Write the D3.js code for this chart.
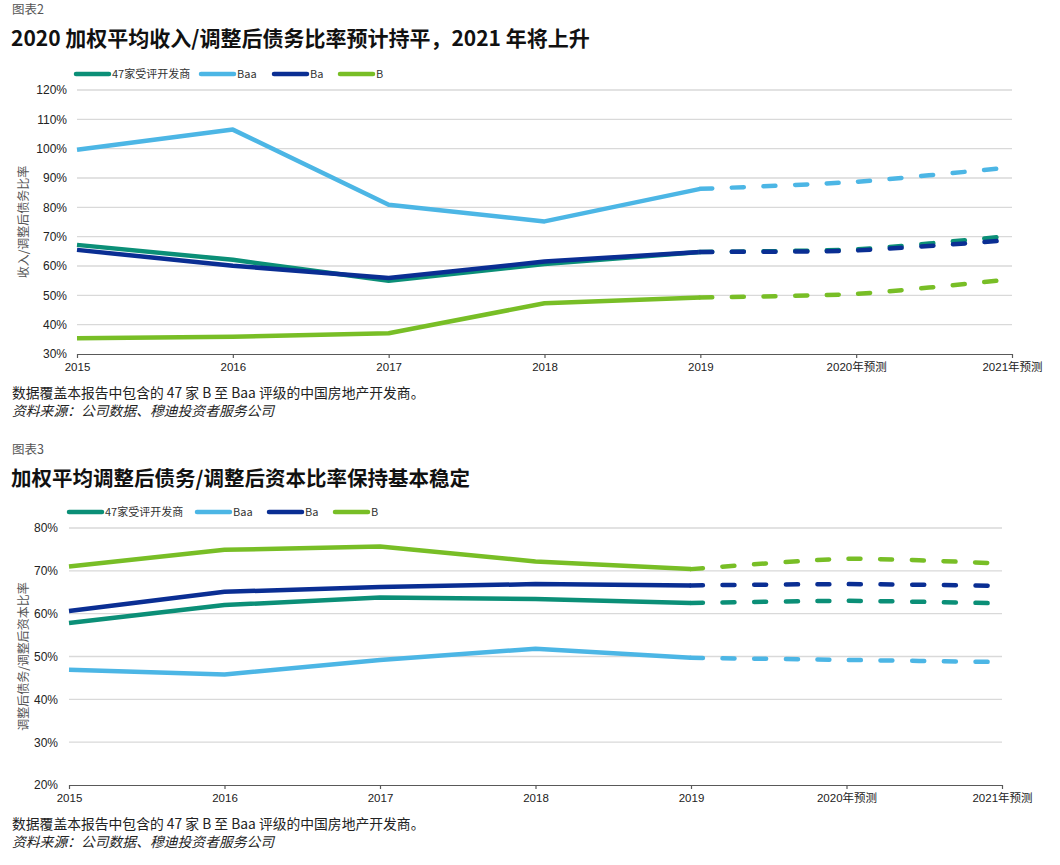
<!DOCTYPE html>
<html><head><meta charset="utf-8">
<script src="https://cdn.jsdelivr.net/npm/d3@7/dist/d3.min.js"></script>
<style>
body{margin:0;background:#fff;}
svg{display:block;font-family:"Liberation Sans",Arial,"Noto Sans CJK SC",sans-serif;}
.cjk{font-family:"Noto Sans CJK SC","Liberation Sans",sans-serif;}
</style></head>
<body>
<svg id="c" width="1060" height="865"></svg>
<script>
// ---- data ----
const categories = ["2015","2016","2017","2018","2019","2020年预测","2021年预测"];
const seriesNames = ["47家受评开发商","Baa","Ba","B"];
const seriesColors = ["#0b8f77","#4cb6e5","#0a2e93","#78be26"];

// Chart 2 (图表2): 收入/调整后债务比率, %
const c1All47 = [67.2, 62.1, 55.0, 60.7, 64.8, 65.7, 70.3];
const c1Baa   = [99.6, 106.5, 80.9, 75.2, 86.3, 88.7, 93.7];
const c1Ba    = [65.5, 60.1, 55.9, 61.5, 64.8, 65.3, 68.9];
const c1B     = [35.4, 35.9, 37.1, 47.3, 49.3, 50.5, 55.5];
const c1Ticks = [30,40,50,60,70,80,90,100,110,120];

// Chart 3 (图表3): 调整后债务/调整后资本比率, %
const c2All47 = [57.8, 62.0, 63.8, 63.4, 62.5, 63.0, 62.4];
const c2Baa   = [46.9, 45.8, 49.2, 51.8, 49.7, 49.2, 48.7];
const c2Ba    = [60.6, 65.1, 66.2, 66.9, 66.6, 66.9, 66.5];
const c2B     = [71.0, 74.9, 75.7, 72.2, 70.4, 72.8, 71.7];
const c2Ticks = [20,30,40,50,60,70,80];

const forecastStart = 4; // index of 2019; dashed afterwards

const svg = d3.select("#c");

function drawChart(o){
  const g = svg.append("g");
  // labels
  g.append("text").attr("class","cjk").attr("x",12).attr("y",o.top+5)
    .attr("font-size",12.5).attr("fill","#555").text(o.label);
  g.append("text").attr("class","cjk").attr("x",11).attr("y",o.top+37)
    .attr("font-size",o.titleSize).attr("font-weight","bold").attr("fill","#111").text(o.title);

  const x = d3.scalePoint().domain(categories).range([o.x0,o.x1]);
  const y = d3.scaleLinear().domain(o.domain).range([o.yb,o.yt]);

  // gridlines
  g.append("g").selectAll("line").data(o.ticks.slice(1)).join("line")
    .attr("x1",o.x0).attr("x2",o.x1)
    .attr("y1",d=>y(d)).attr("y2",d=>y(d))
    .attr("stroke","#d9d9d9").attr("stroke-width",1.3);

  // y axis labels
  const ya = d3.axisLeft(y).tickValues(o.ticks).tickFormat(d=>d+"%").tickSize(0).tickPadding(0);
  const yg = g.append("g").attr("transform",`translate(${o.ylab},0)`).call(ya);
  yg.select(".domain").remove();
  yg.selectAll("text").attr("font-size",12).attr("fill","#222")
    .attr("font-family","'Liberation Sans',Arial,sans-serif");

  // x axis
  const xa = d3.axisBottom(x).tickSize(4).tickPadding(5).tickSizeOuter(0);
  const xg = g.append("g").attr("transform",`translate(0,${o.yb})`).call(xa);
  xg.select(".domain").attr("stroke","#595959").attr("stroke-width",1.2);
  xg.selectAll(".tick line").attr("stroke","#595959").attr("stroke-width",1.2);
  xg.selectAll("text").attr("font-size",11.5).attr("fill","#222")
    .attr("font-family","'Liberation Sans','Noto Sans CJK SC',sans-serif");

  // y title
  g.append("text").attr("class","cjk")
    .attr("transform",`translate(${o.ytx},${(o.yt+o.yb)/2}) rotate(-90)`)
    .attr("text-anchor","middle").attr("font-size",12).attr("fill","#555")
    .text(o.ytitle);

  // lines
  const pts = o.series.map(s=>s.map((v,i)=>[x(categories[i]),y(v)]));
  const solid = d3.line().curve(d3.curveLinear);
  const dashed = d3.line().curve(d3.curveCardinal.tension(0.3));
  pts.forEach((p,k)=>{
    g.append("path").attr("d",solid(p.slice(0,forecastStart+1)))
      .attr("fill","none").attr("stroke",seriesColors[k]).attr("stroke-width",4.5)
      .attr("stroke-linejoin","round").attr("stroke-linecap","butt");
  });
  pts.forEach((p,k)=>{
    g.append("path").attr("d",dashed(p.slice(forecastStart)))
      .attr("fill","none").attr("stroke",seriesColors[k]).attr("stroke-width",4.5)
      .attr("stroke-linecap","round").attr("stroke-dasharray","12,19.6");
  });

  // legend
  const lg = g.append("g");
  seriesNames.forEach((n,k)=>{
    const lx = o.legX[k];
    lg.append("line").attr("x1",lx).attr("x2",lx+33).attr("y1",o.legY).attr("y2",o.legY)
      .attr("stroke",seriesColors[k]).attr("stroke-width",4.5).attr("stroke-linecap","round");
    lg.append("text").attr("class","cjk").attr("x",lx+36).attr("y",o.legY+4)
      .attr("font-size",11).attr("fill","#333").text(n);
  });

  // notes
  g.append("text").attr("class","cjk").attr("x",12).attr("y",o.yb+44)
    .attr("font-size",13.8).attr("fill","#222")
    .text("数据覆盖本报告中包含的 47 家 B 至 Baa 评级的中国房地产开发商。");
  g.append("text").attr("class","cjk").attr("x",12).attr("y",o.yb+62)
    .attr("font-size",13.8).attr("fill","#222").attr("font-style","italic")
    .text("资料来源：公司数据、穆迪投资者服务公司");
}

drawChart({
  label:"图表2", title:"2020 加权平均收入/调整后债务比率预计持平，2021 年将上升", titleSize:21,
  top:9, x0:77, x1:1012, yt:90, yb:354, domain:[30,120], ticks:c1Ticks,
  ylab:67, ytx:28, ytitle:"收入/调整后债务比率",
  series:[c1All47,c1Baa,c1Ba,c1B],
  legX:[76,201,274,340], legY:74
});
drawChart({
  label:"图表3", title:"加权平均调整后债务/调整后资本比率保持基本稳定", titleSize:20.5,
  top:449, x0:69, x1:1002, yt:528, yb:785, domain:[20,80], ticks:c2Ticks,
  ylab:58, ytx:28, ytitle:"调整后债务/调整后资本比率",
  series:[c2All47,c2Baa,c2Ba,c2B],
  legX:[69,197,269,335], legY:512
});
</script>
</body></html>
